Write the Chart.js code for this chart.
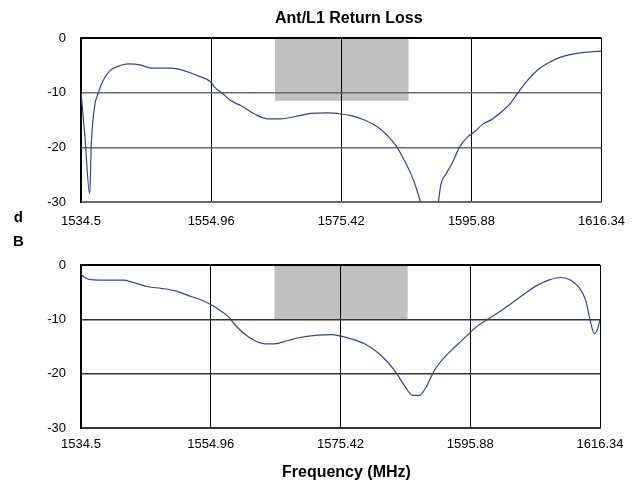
<!DOCTYPE html>
<html>
<head>
<meta charset="utf-8">
<script src="https://cdn.jsdelivr.net/npm/chart.js@4"></script>
<style>
  body { margin: 0; background: #fff; font-family: 'Liberation Sans', Arial, sans-serif; }
  #page { position: relative; width: 637px; height: 493px; }
  .box { position: absolute; left: 0; width: 637px; }
  .lbl { position: absolute; font-weight: bold; color: #000; white-space: nowrap; }
</style>
</head>
<body>
<div id="page">
  <div class="box" style="top:0; height:240px;"><canvas id="topChart"></canvas></div>
  <div class="box" style="top:240px; height:253px;"><canvas id="bottomChart"></canvas></div>
  <div class="lbl" style="left:275px; top:9px; font-size:16px;">Ant/L1 Return Loss</div>
  <div class="lbl" style="left:13px; top:205px; font-size:15px; line-height:24px; text-align:center;">d<br>B</div>
  <div class="lbl" style="left:282px; top:463px; font-size:16px;">Frequency (MHz)</div>
</div>
<script>
// axis ticks
const freqTicks = [1534.5, 1554.96, 1575.42, 1595.88, 1616.34];
const dbTicks = [0, -10, -20, -30];

// shaded GPS L1 band
const bandStart = 1565;
const bandEnd = 1586;
const topBandDepth = -11.5;
const bottomBandDepth = -10;

// upper trace
const topFreq = [1534.5, 1535.08, 1535.87, 1536.12, 1536.65, 1537.17, 1537.96, 1539.01, 1540.31, 1541.88,
  1543.72, 1545.54, 1548.68, 1550.79, 1552.88, 1554.97, 1555.5, 1556.81, 1558.11, 1559.68,
  1561.79, 1563.88, 1565.96, 1568.07, 1570.68, 1573.3, 1575.39, 1576.96, 1579.07, 1581.15,
  1582.73, 1584.03, 1585.35, 1586.39, 1587.17, 1587.86, 1589.28, 1590.69, 1591.1, 1591.88,
  1592.94, 1593.99, 1595.29, 1596.34, 1597.65, 1599.22, 1600.52, 1601.84, 1603.15, 1604.45,
  1606.29, 1607.86, 1609.95, 1612.05, 1614.14, 1616.34];
const topLoss = [-9.9, -17.5, -28.5, -19.4, -12.4, -10.2, -7.8, -6.0, -5.2, -4.75,
  -4.9, -5.5, -5.5, -6.0, -6.9, -8.1, -9.0, -10.2, -11.5, -12.4,
  -13.9, -14.8, -14.8, -14.4, -13.8, -13.7, -13.9, -14.2, -15.0, -16.3,
  -17.9, -19.7, -22.4, -24.9, -27.3, -30, -38, -30, -26.7, -24.9,
  -22.7, -20.0, -18.1, -17.2, -15.8, -14.8, -13.6, -12.2, -10.1, -8.1,
  -5.85, -4.6, -3.5, -2.9, -2.6, -2.4];

// lower trace
const bottomFreq = [1534.5, 1535.08, 1536.39, 1538.75, 1541.12, 1542.69, 1545.06, 1547.15, 1549.51, 1551.36,
  1553.2, 1555.03, 1556.08, 1557.66, 1558.72, 1560.29, 1561.87, 1563.44, 1565.02, 1567.11,
  1569.21, 1571.84, 1573.94, 1575.51, 1577.09, 1579.2, 1581.29, 1582.87, 1584.18, 1585.5,
  1586.81, 1587.86, 1588.9, 1590.23, 1591.8, 1593.63, 1595.99, 1597.05, 1598.89, 1600.72,
  1602.56, 1604.66, 1606.5, 1608.35, 1610.17, 1611.75, 1613.07, 1614.11, 1614.81, 1615.44,
  1615.96, 1616.34];
const bottomLoss = [-1.7, -2.3, -2.75, -2.8, -2.8, -3.2, -4.0, -4.3, -4.8, -5.6,
  -6.3, -7.3, -8.1, -9.4, -10.9, -12.7, -13.9, -14.5, -14.5, -13.9,
  -13.3, -12.9, -12.8, -13.1, -13.6, -14.5, -16.1, -17.9, -19.8, -22.2,
  -24.0, -24.0, -22.5, -19.4, -17.0, -14.9, -12.3, -11.2, -9.8, -8.4,
  -6.9, -5.1, -3.7, -2.75, -2.3, -2.8, -4.2, -6.6, -10.3, -12.6,
  -11.8, -10.0];

Chart.defaults.font.family = "'Liberation Sans', Arial, sans-serif";
Chart.defaults.font.size = 13;
Chart.defaults.color = '#000';

// grey band drawn under the grid
const bandPlugin = {
  id: 'band',
  beforeDraw(chart, args, opts) {
    const { ctx, scales: { x, y } } = chart;
    const left = x.getPixelForValue(opts.from);
    const right = x.getPixelForValue(opts.to);
    const top = y.getPixelForValue(dbTicks[0]);
    const bottom = y.getPixelForValue(opts.depth);
    ctx.save();
    ctx.fillStyle = '#c0c0c0';
    ctx.fillRect(left, top, right - left, bottom - top);
    ctx.restore();
  }
};

function makeChart(id, freq, loss, cfg) {
  return new Chart(document.getElementById(id), {
    type: 'line',
    data: {
      datasets: [{
        data: freq.map((f, i) => ({ x: f, y: loss[i] })),
        borderColor: '#34458f',
        borderWidth: 1.2,
        pointRadius: 0,
        cubicInterpolationMode: 'monotone',
        fill: false
      }]
    },
    options: {
      responsive: true,
      maintainAspectRatio: false,
      animation: false,
      layout: { padding: { top: cfg.padTop, right: cfg.padRight, left: 0, bottom: 0 } },
      plugins: {
        legend: { display: false },
        tooltip: { enabled: false },
        band: { from: bandStart, to: bandEnd, depth: cfg.depth }
      },
      scales: {
        x: {
          type: 'linear',
          min: freqTicks[0],
          max: freqTicks[freqTicks.length - 1],
          afterBuildTicks: s => { s.ticks = freqTicks.map(v => ({ value: v })); },
          afterFit: s => { s.height = cfg.xHeight; },
          ticks: { padding: cfg.xPad, maxRotation: 0, autoSkip: false, callback: v => String(v) },
          grid: { color: '#000', lineWidth: 1, drawTicks: false },
          border: { color: cfg.hColor, width: 2 }
        },
        y: {
          min: -30,
          max: 0,
          afterBuildTicks: s => { s.ticks = dbTicks.map(v => ({ value: v })); },
          afterFit: s => { s.width = 81; },
          ticks: { padding: 15, callback: v => String(v) },
          grid: {
            color: c => (c.tick && c.tick.value === 0) ? '#000' : cfg.hColor,
            lineWidth: c => (c.tick && c.tick.value === 0) ? 2 : 1.5,
            drawTicks: false
          },
          border: { color: '#000', width: 1.5 }
        }
      }
    },
    plugins: [bandPlugin]
  });
}

makeChart('topChart', topFreq, topLoss, { padTop: 38, padRight: 35, xHeight: 38, xPad: 12, depth: topBandDepth, hColor: '#6a6a6a' });
makeChart('bottomChart', bottomFreq, bottomLoss, { padTop: 25, padRight: 37, xHeight: 65, xPad: 9, depth: bottomBandDepth, hColor: '#333' });
</script>
</body>
</html>
